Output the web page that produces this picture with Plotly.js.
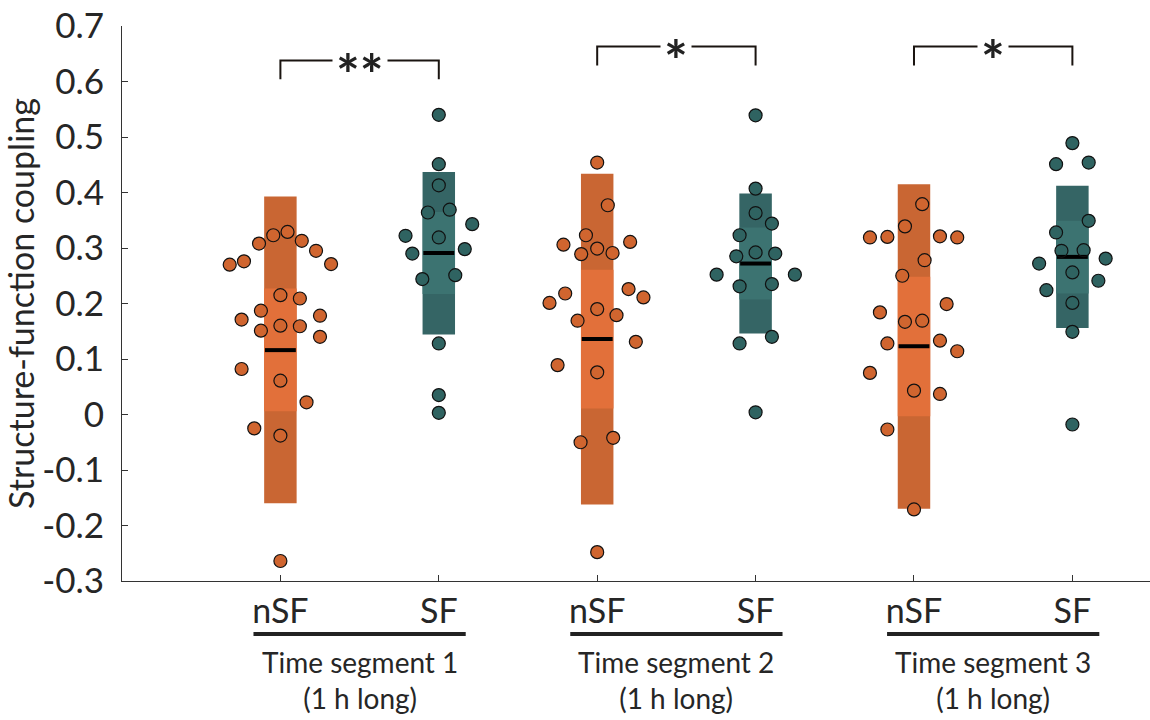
<!DOCTYPE html>
<html>
<head>
<meta charset="utf-8">
<script src="https://cdn.plot.ly/plotly-3.0.1.min.js"></script>
<style>html,body{margin:0;padding:0;background:#fff;}#chart{width:1150px;height:720px;}</style>
</head>
<body>
<div id="chart"></div>
<script>
// ---- data ----
const groupX = [1, 2, 3, 4, 5, 6];
const tickLabels = ['nSF', 'SF', 'nSF', 'SF', 'nSF', 'SF'];
const groupKind = ['nSF', 'SF', 'nSF', 'SF', 'nSF', 'SF'];
const segmentCenters = [1.5, 3.5, 5.5];
const segmentLabels = ['Time segment 1<br>(1 h long)', 'Time segment 2<br>(1 h long)', 'Time segment 3<br>(1 h long)'];

const boxMean = [0.116, 0.291, 0.136, 0.272, 0.123, 0.284];
const sdLow   = [-0.160, 0.144, -0.162, 0.146, -0.170, 0.156];
const sdHigh  = [0.393, 0.437, 0.434, 0.398, 0.415, 0.412];
const ciLow   = [0.006, 0.217, 0.011, 0.207, -0.003, 0.218];
const ciHigh  = [0.227, 0.365, 0.261, 0.337, 0.248, 0.349];

const nsf1Values = [0.270,0.276,0.308,0.323,0.329,0.313,0.295,0.271,0.215,0.209,0.187,0.171,0.178,0.151,0.160,0.159,0.140,0.082,0.061,0.022,-0.025,-0.038,-0.264];
const nsf1Jitter = [-0.32,-0.23,-0.135,-0.045,0.045,0.135,0.225,0.32,0,0.123,-0.123,-0.245,0.25,-0.123,0,0.123,0.25,-0.245,0,0.165,-0.165,0,0];
const sf1Values = [0.540,0.451,0.413,0.364,0.369,0.343,0.322,0.319,0.290,0.298,0.244,0.251,0.128,0.035,0.003];
const sf1Jitter = [0,0,0,-0.069,0.069,0.211,-0.21,0,-0.167,0.164,-0.104,0.104,0,0,0];
const nsf2Values = [0.454,0.377,0.323,0.306,0.311,0.289,0.299,0.291,0.218,0.201,0.226,0.211,0.190,0.169,0.179,0.131,0.089,0.076,-0.050,-0.042,-0.248];
const nsf2Jitter = [0,0.067,-0.071,-0.213,0.208,-0.101,0,0.097,-0.202,-0.301,0.198,0.292,0,-0.124,0.122,0.244,-0.25,0,-0.105,0.101,0];
const sf2Values = [0.539,0.407,0.363,0.344,0.323,0.285,0.292,0.290,0.252,0.252,0.231,0.235,0.128,0.140,0.004];
const sf2Jitter = [0,0,0,0.103,-0.101,-0.122,0,0.124,-0.246,0.248,-0.101,0.103,-0.101,0.103,0];
const nsf3Values = [0.379,0.339,0.319,0.320,0.321,0.319,0.278,0.250,0.184,0.199,0.167,0.169,0.128,0.133,0.114,0.075,0.043,0.037,-0.027,-0.171];
const nsf3Jitter = [0.052,-0.057,-0.278,-0.168,0.164,0.273,0.067,-0.074,-0.215,0.206,-0.057,0.052,-0.168,0.164,0.273,-0.278,0,0.164,-0.168,0];
const sf3Values = [0.489,0.451,0.454,0.349,0.328,0.295,0.296,0.281,0.272,0.256,0.241,0.224,0.201,0.149,-0.018];
const sf3Jitter = [0,-0.103,0.103,0.103,-0.103,-0.069,0.071,0.21,-0.21,0,0.164,-0.164,0,0,0];

const pointValues = [nsf1Values, sf1Values, nsf2Values, sf2Values, nsf3Values, sf3Values];
const pointJitter = [nsf1Jitter, sf1Jitter, nsf2Jitter, sf2Jitter, nsf3Jitter, sf3Jitter];

const sigPairs = [[1, 2], [3, 4], [5, 6]];
const sigLevels = [0.638, 0.663, 0.663];
const sigLabels = ['**', '*', '*'];

// ---- styles ----
const colors = {
  nSF: {sd: '#C96633', ci: '#E2703A', pt: '#D0652F'},
  SF:  {sd: '#356565', ci: '#3C7371', pt: '#2F6361'}
};
const boxWidth = 0.205;
const FONT = 'Lato, "Open Sans", sans-serif';
const txtColor = '#262626';

const traces = [];

// filled points (underneath the boxes)
groupX.forEach((gx, i) => {
  traces.push({
    type: 'scatter', mode: 'markers',
    x: pointValues[i].map((v, k) => gx + pointJitter[i][k]),
    y: pointValues[i],
    marker: {size: 13, color: colors[groupKind[i]].pt, line: {width: 0}},
    hoverinfo: 'skip', showlegend: false, cliponaxis: false
  });
});

// SD boxes
traces.push({
  type: 'bar', x: groupX,
  y: groupX.map((_, i) => sdHigh[i] - sdLow[i]),
  base: sdLow, width: boxWidth,
  marker: {color: groupKind.map(k => colors[k].sd), line: {width: 0}},
  hoverinfo: 'skip', showlegend: false
});
// CI boxes
traces.push({
  type: 'bar', x: groupX,
  y: groupX.map((_, i) => ciHigh[i] - ciLow[i]),
  base: ciLow, width: boxWidth,
  marker: {color: groupKind.map(k => colors[k].ci), line: {width: 0}},
  hoverinfo: 'skip', showlegend: false
});

// mean lines
const mx = [], my = [];
groupX.forEach((gx, i) => {
  mx.push(gx - boxWidth / 2 + 0.005, gx + boxWidth / 2 - 0.005, null);
  my.push(boxMean[i], boxMean[i], null);
});
traces.push({
  type: 'scatter', mode: 'lines', x: mx, y: my,
  line: {color: '#000', width: 4}, hoverinfo: 'skip', showlegend: false
});

// point outlines on top
groupX.forEach((gx, i) => {
  traces.push({
    type: 'scatter', mode: 'markers',
    x: pointValues[i].map((v, k) => gx + pointJitter[i][k]),
    y: pointValues[i],
    marker: {size: 13, color: 'rgba(0,0,0,0)', line: {width: 1.2, color: '#111'}},
    hoverinfo: 'skip', showlegend: false, cliponaxis: false
  });
});

// significance brackets
const drop = 0.034;
sigPairs.forEach((p, i) => {
  traces.push({
    type: 'scatter', mode: 'lines',
    x: [p[0], p[0], p[1], p[1]],
    y: [sigLevels[i] - drop, sigLevels[i], sigLevels[i], sigLevels[i] - drop],
    line: {color: '#1a1410', width: 2}, hoverinfo: 'skip', showlegend: false, cliponaxis: false
  });
});

const annotations = sigPairs.map((p, i) => ({
  x: (p[0] + p[1]) / 2, y: sigLevels[i], xref: 'x', yref: 'y',
  text: sigLabels[i], showarrow: false, bgcolor: '#fff', borderpad: 3,
  font: {family: 'Lato, sans-serif', size: 56, weight: 'bold', color: '#222'},
  yanchor: 'middle', yshift: -13
}));
segmentCenters.forEach((c, i) => {
  annotations.push({
    x: c, y: -0.178, xref: 'x', yref: 'paper', yanchor: 'middle',
    text: segmentLabels[i], showarrow: false, align: 'center',
    font: {family: FONT, size: 28, color: txtColor}
  });
});

const shapes = segmentCenters.map(c => ({
  type: 'line', xref: 'x', yref: 'paper',
  x0: c - 0.67, x1: c + 0.67, y0: -0.0955, y1: -0.0955,
  line: {color: '#222', width: 4}
}));

const layout = {
  width: 1150, height: 720,
  margin: {l: 122, r: 0, t: 26, b: 139},
  paper_bgcolor: '#fff', plot_bgcolor: '#fff',
  barmode: 'overlay', showlegend: false,
  font: {family: FONT, color: txtColor},
  xaxis: {
    range: [0, 6.49], tickmode: 'array', tickvals: groupX, ticktext: tickLabels,
    showline: true, linecolor: '#333', linewidth: 1, mirror: false,
    ticks: 'inside', ticklen: 6, tickcolor: '#333', tickwidth: 1,
    showgrid: false, zeroline: false, fixedrange: true,
    tickfont: {family: FONT, size: 34, color: txtColor}, ticklabelstandoff: 0
  },
  yaxis: {
    range: [-0.3, 0.7], tickmode: 'array',
    tickvals: [-0.3, -0.2, -0.1, 0, 0.1, 0.2, 0.3, 0.4, 0.5, 0.6, 0.7],
    ticktext: ['-0.3', '-0.2', '-0.1', '0', '0.1', '0.2', '0.3', '0.4', '0.5', '0.6', '0.7'],
    showline: true, linecolor: '#333', linewidth: 1,
    ticks: 'inside', ticklen: 6, tickcolor: '#333', tickwidth: 1,
    showgrid: false, zeroline: false, fixedrange: true,
    tickfont: {family: FONT, size: 35, color: txtColor}, ticklabelstandoff: 10,
    title: {text: 'Structure-function coupling', font: {family: FONT, size: 34, color: txtColor}, standoff: 4}
  },
  annotations: annotations,
  shapes: shapes
};

Plotly.newPlot('chart', traces, layout, {displayModeBar: false, staticPlot: true});
</script>
</body>
</html>
